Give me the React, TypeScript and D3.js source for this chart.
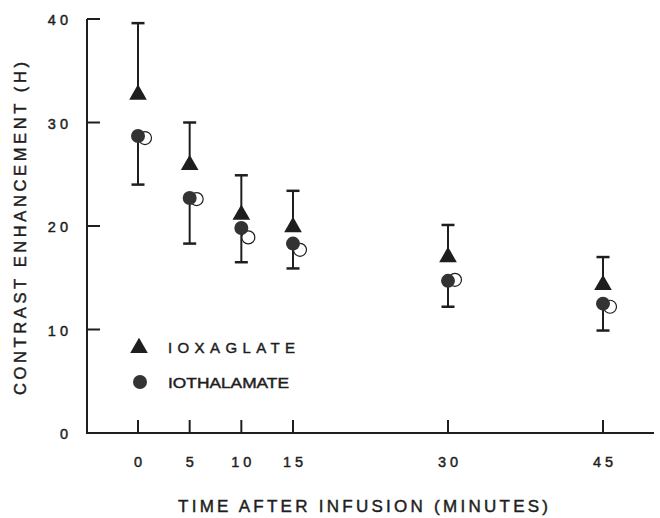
import React from "react";
import * as d3 from "d3";

const times = [0, 5, 10, 15, 30, 45];
const ioxMean = [32.7, 25.9, 21.1, 19.9, 17.0, 14.3];
const ioxUpper = [39.6, 30.0, 24.9, 23.4, 20.1, 17.0];
const iothMean = [28.7, 22.7, 19.8, 18.3, 14.7, 12.5];
const iothLower = [24.0, 18.3, 16.5, 15.9, 12.2, 9.9];
const iothOpen = [28.5, 22.6, 18.9, 17.7, 14.8, 12.2];
const yTicks = [0, 10, 20, 30, 40];
const xTicks = [0, 5, 10, 15, 30, 45];

const INK = "#1e1e1e";
const FONT = "'Liberation Sans', Arial, Helvetica, sans-serif";

export default function App() {
  const x = d3.scaleLinear().domain([0, 45]).range([138, 603]);
  const y = d3.scaleLinear().domain([0, 40]).range([433, 19]);
  const axisX0 = 87;
  const axisX1 = 654;
  const tri = d3.symbol().type(d3.symbolTriangle).size(135)();
  const cap = 6.5;
  const txt = { fontFamily: FONT, fill: INK, stroke: INK, strokeWidth: 0.45 } as const;

  return (
    <svg width={660} height={518} style={{ position: "absolute", left: 0, top: 0, background: "#fff" }}>
      {/* axes */}
      <line x1={axisX0} x2={axisX0} y1={y(40)} y2={y(0)} stroke={INK} strokeWidth={2} />
      <line x1={axisX0 - 1} x2={axisX1} y1={y(0)} y2={y(0)} stroke={INK} strokeWidth={2} />
      {yTicks.map((t) => (
        <g key={"y" + t}>
          {t > 0 && <line x1={axisX0} x2={axisX0 + 13} y1={y(t)} y2={y(t)} stroke={INK} strokeWidth={2} />}
          <text x={72} y={y(t) + 6} textAnchor="end" fontSize={14.5} letterSpacing={4} {...txt}>
            {t}
          </text>
        </g>
      ))}
      {xTicks.map((t) => (
        <g key={"x" + t}>
          <line x1={x(t)} x2={x(t)} y1={y(0)} y2={y(0) - 13} stroke={INK} strokeWidth={2} />
          <text x={x(t) + 2} y={467} textAnchor="middle" fontSize={14.5} letterSpacing={4} {...txt}>
            {t}
          </text>
        </g>
      ))}
      <text
        x={178}
        y={512}
        fontSize={17}
        textLength={370}
        lengthAdjust="spacing"
        {...txt}
      >
        TIME AFTER INFUSION (MINUTES)
      </text>
      <text
        transform={`translate(26,395) rotate(-90)`}
        fontSize={16.5}
        textLength={333}
        lengthAdjust="spacing"
        {...txt}
      >
        CONTRAST ENHANCEMENT (H)
      </text>

      {/* error bars */}
      {times.map((t, i) => (
        <g key={"e" + t} stroke={INK} strokeWidth={2}>
          <line x1={x(t)} x2={x(t)} y1={y(ioxUpper[i])} y2={y(ioxMean[i])} />
          <line x1={x(t) - cap} x2={x(t) + cap} y1={y(ioxUpper[i])} y2={y(ioxUpper[i])} strokeWidth={2.5} />
          <line x1={x(t)} x2={x(t)} y1={y(iothMean[i])} y2={y(iothLower[i])} />
          <line x1={x(t) - cap} x2={x(t) + cap} y1={y(iothLower[i])} y2={y(iothLower[i])} strokeWidth={2.5} />
        </g>
      ))}

      {/* open circles */}
      {times.map((t, i) => (
        <circle key={"o" + t} cx={x(t) + 7} cy={y(iothOpen[i])} r={6.5} fill="#fff" stroke={INK} strokeWidth={1.2} />
      ))}
      {/* filled circles */}
      {times.map((t, i) => (
        <circle key={"c" + t} cx={x(t)} cy={y(iothMean[i])} r={7} fill="#333" />
      ))}
      {/* triangles */}
      {times.map((t, i) => (
        <path key={"t" + t} d={tri ?? ""} transform={`translate(${x(t)},${y(ioxMean[i])})`} fill={INK} />
      ))}

      {/* legend */}
      <path d={tri ?? ""} transform="translate(139,348)" fill={INK} />
      <text x={168} y={353} fontSize={15} textLength={127} lengthAdjust="spacing" {...txt}>
        IOXAGLATE
      </text>
      <circle cx={140} cy={382} r={7} fill="#333" />
      <text x={168} y={388} fontSize={15} textLength={121} lengthAdjust="spacingAndGlyphs" {...txt}>
        IOTHALAMATE
      </text>
    </svg>
  );
}
